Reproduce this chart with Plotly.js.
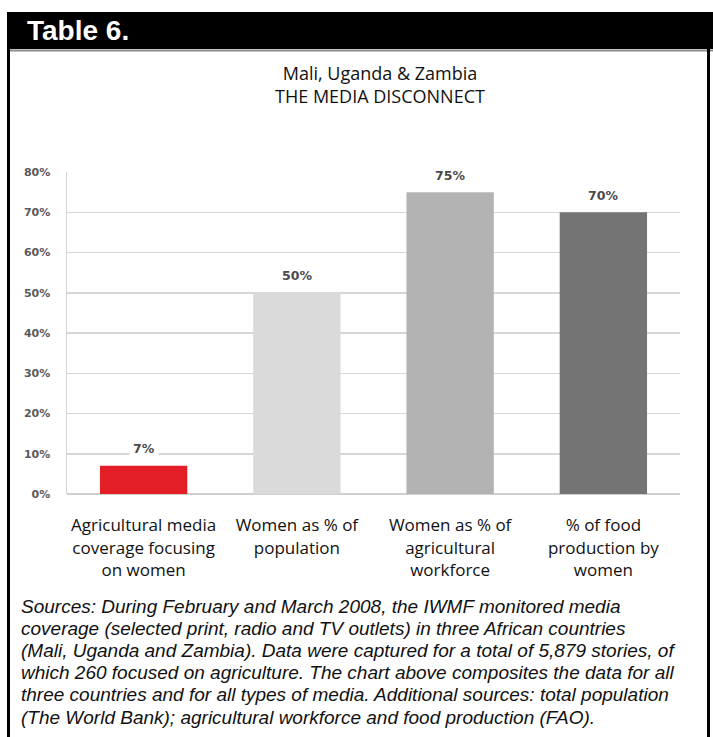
<!DOCTYPE html>
<html>
<head>
<meta charset="utf-8">
<script src="https://cdn.plot.ly/plotly-3.0.1.min.js"></script>
<style>
html,body{margin:0;padding:0;background:#fff;}
#chart{width:713px;height:737px;}
</style>
</head>
<body>
<div id="chart"></div>
<script>
// ---- data ----
const categories = [
  "Agricultural media<br>coverage focusing<br>on women",
  "Women as % of<br>population",
  "Women as % of<br>agricultural<br>workforce",
  "% of food<br>production by<br>women"
];
const values = [0.07, 0.50, 0.75, 0.70];
const valueLabels = ["7%", "50%", "75%", "70%"];
const barColors = ["#e41e26", "#dadada", "#b3b3b3", "#747474"];
const yTickVals = [0, 0.1, 0.2, 0.3, 0.4, 0.5, 0.6, 0.7, 0.8];
const yTickText = ["0%", "10%", "20%", "30%", "40%", "50%", "60%", "70%", "80%"];
const headerText = "Table 6.";
const titleText = "Mali, Uganda &amp; Zambia<br>THE MEDIA DISCONNECT";
const sourcesText = [
  "Sources: During February and March 2008, the IWMF monitored media",
  "coverage (selected print, radio and TV outlets) in three African countries",
  "(Mali, Uganda and Zambia). Data were captured for a total of 5,879 stories, of",
  "which 260 focused on agriculture. The chart above composites the data for all",
  "three countries and for all types of media. Additional sources: total population",
  "(The World Bank); agricultural workforce and food production (FAO)."
];

// ---- geometry helpers (pixel -> paper) ----
const W = 713, H = 737;
const L = 67, R = 680, T = 172, B = 494;
const px = x => (x - L) / (R - L);
const py = y => (B - y) / (B - T);

const trace = {
  type: "bar",
  x: categories,
  y: values,
  marker: {color: barColors, line: {width: 0}},
  hoverinfo: "skip"
};

const labelAnns = categories.map((c, i) => ({
  x: c, y: values[i], xref: "x", yref: "y",
  text: "<b>" + valueLabels[i] + "</b>",
  showarrow: false, yanchor: "middle", yshift: 17,
  font: {family: "DejaVu Sans", size: 12.5, color: "#4a4a4a"},
  bgcolor: "#ffffff", borderpad: 3
}));

const sourceAnns = sourcesText.map((line, i) => ({
  xref: "paper", yref: "paper", x: px(19), y: py(606 + i * 22.2),
  xanchor: "left", yanchor: "middle", align: "left", showarrow: false,
  text: "<i>" + line + "</i>",
  font: {family: "Liberation Sans, Arial, sans-serif", size: 19, color: "#111111"}
}));

const annotations = labelAnns.concat(sourceAnns, [
  {
    xref: "paper", yref: "paper", x: px(25), y: py(31),
    xanchor: "left", yanchor: "middle", showarrow: false,
    text: "<b>" + headerText + "</b>",
    font: {family: "Liberation Sans, Arial, sans-serif", size: 28, color: "#ffffff"}
  }
]);

const shapes = [
  // header band
  {type: "rect", xref: "paper", yref: "paper", x0: px(7), x1: px(713), y0: py(12), y1: py(49),
   fillcolor: "#000000", line: {width: 0}, layer: "below"},
  {type: "line", xref: "paper", yref: "paper", x0: px(7), x1: px(713), y0: py(50.5), y1: py(50.5),
   line: {color: "#8a8a8a", width: 2}},
  // frame sides
  {type: "line", xref: "paper", yref: "paper", x0: px(8.5), x1: px(8.5), y0: py(49), y1: py(737),
   line: {color: "#000000", width: 3}},
  {type: "line", xref: "paper", yref: "paper", x0: px(708.5), x1: px(708.5), y0: py(49), y1: py(737),
   line: {color: "#000000", width: 3}}
];

const layout = {
  width: W, height: H,
  margin: {l: L, r: W - R, t: T, b: H - B, pad: 0},
  paper_bgcolor: "#ffffff",
  plot_bgcolor: "#ffffff",
  showlegend: false,
  bargap: 0.43,
  title: {
    text: titleText,
    x: 380 / W, xanchor: "center", xref: "container",
    y: 1 - 80 / H, yanchor: "top", yref: "container",
    font: {family: "Open Sans, sans-serif", size: 18, color: "#111111"}
  },
  xaxis: {
    type: "category",
    showgrid: false, zeroline: false, showline: false,
    ticks: "outside", ticklen: 16, tickcolor: "rgba(0,0,0,0)",
    tickfont: {family: "Open Sans, sans-serif", size: 17, color: "#111111"},
    fixedrange: true
  },
  yaxis: {
    range: [0, 0.8],
    tickvals: yTickVals, ticktext: yTickText,
    showgrid: true, gridcolor: "#d6d6d6", gridwidth: 1.5,
    zeroline: true, zerolinecolor: "#cfcfcf", zerolinewidth: 1.5,
    showline: true, linecolor: "#d6d6d6", linewidth: 1.5,
    ticks: "outside", ticklen: 13, tickcolor: "rgba(0,0,0,0)",
    tickfont: {family: "DejaVu Sans", size: 11, color: "#5a5a5a", weight: "bold"},
    fixedrange: true
  },
  annotations: annotations,
  shapes: shapes
};

Plotly.newPlot("chart", [trace], layout, {displayModeBar: false, staticPlot: true});
</script>
</body>
</html>
